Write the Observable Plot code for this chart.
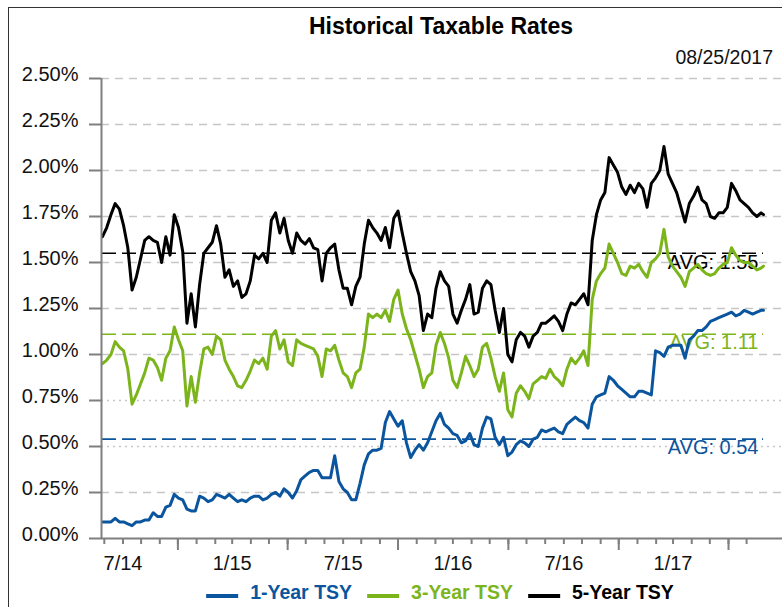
<!DOCTYPE html>
<html>
<head>
<meta charset="utf-8">
<script src="https://cdn.jsdelivr.net/npm/d3@7"></script>
<script src="https://cdn.jsdelivr.net/npm/@observablehq/plot@0.6"></script>
<style>
  body { margin: 0; background: #fff; font-family: "Liberation Sans", Arial, sans-serif; }
  #wrap { position: relative; width: 782px; height: 607px; overflow: hidden; background: #fff; }
  #frame { position: absolute; left: 8px; top: 7px; width: 800px; height: 700px; border-left: 1px solid #333; border-top: 1px solid #333; }
  #chart { position: absolute; left: 0; top: 0; }
  #title { position: absolute; top: 15px; left: 441px; transform: translateX(-50%); font-size: 23px; font-weight: bold; line-height: 23px; white-space: nowrap; color: #000; }
  #date { position: absolute; top: 48px; right: 9px; font-size: 19.5px; line-height: 19.5px; color: #111; white-space: nowrap; }
  #legend { position: absolute; top: 583px; left: 440px; transform: translateX(-50%); display: flex; align-items: flex-start; font-size: 19.5px; font-weight: bold; line-height: 19.5px; white-space: nowrap; }
  .item { display: flex; align-items: flex-start; margin-right: 15px; }
  .item:last-child { margin-right: 0; }
  .sw { display: inline-block; width: 32px; height: 4px; margin-right: 12px; margin-top: 11px; }
</style>
</head>
<body>
<div id="wrap">
  <div id="frame"></div>
  <div id="chart"></div>
  <div id="title"></div>
  <div id="date"></div>
  <div id="legend"></div>
</div>
<script>
// ---------- data ----------
const titleText = "Historical Taxable Rates";
const asOfText = "08/25/2017";
const firstWeek = "2014-08-25";   // weekly observations start (Mondays)
const lastDate = "2017-08-25";    // final observation
const seriesNames = ["1-Year TSY", "3-Year TSY", "5-Year TSY"];
const seriesColors = ["#0a559e", "#7cb41c", "#000000"];
const averages = [0.54, 1.11, 1.55];
const yTicks = [0, 0.25, 0.5, 0.75, 1.0, 1.25, 1.5, 1.75, 2.0, 2.25, 2.5];
const dottedGrid = [0.5, 0.75];
const xTickLabels = ["7/14", "1/15", "7/15", "1/16", "7/16", "1/17"];

const oneYear = [
  0.09, 0.09, 0.09, 0.11, 0.09, 0.09, 0.08, 0.07, 0.09, 0.09,
  0.10, 0.10, 0.14, 0.12, 0.12, 0.17, 0.18, 0.24, 0.22, 0.21,
  0.16, 0.15, 0.15, 0.23, 0.22, 0.20, 0.21, 0.24, 0.23, 0.22,
  0.24, 0.22, 0.20, 0.21, 0.20, 0.22, 0.23, 0.23, 0.21, 0.22,
  0.24, 0.25, 0.23, 0.27, 0.25, 0.22, 0.26, 0.32, 0.34, 0.36,
  0.37, 0.37, 0.33, 0.33, 0.33, 0.45, 0.31, 0.27, 0.25, 0.21,
  0.21, 0.30, 0.40, 0.46, 0.48, 0.48, 0.49, 0.63, 0.69, 0.65,
  0.61, 0.64, 0.52, 0.44, 0.48, 0.51, 0.48, 0.52, 0.58, 0.64,
  0.68, 0.62, 0.60, 0.57, 0.56, 0.52, 0.53, 0.57, 0.51, 0.50,
  0.60, 0.66, 0.65, 0.55, 0.51, 0.55, 0.45, 0.47, 0.51, 0.53,
  0.52, 0.50, 0.54, 0.55, 0.59, 0.58, 0.59, 0.60, 0.58, 0.57,
  0.62, 0.64, 0.66, 0.64, 0.63, 0.60, 0.73, 0.77, 0.78, 0.79,
  0.88, 0.86, 0.83, 0.81, 0.79, 0.77, 0.77, 0.80, 0.80, 0.79,
  0.78, 1.02, 1.01, 0.99, 1.04, 1.05, 1.05, 1.05, 0.98, 1.08,
  1.10, 1.13, 1.13, 1.15, 1.18, 1.19, 1.20, 1.21, 1.22, 1.23,
  1.21, 1.22, 1.24, 1.23, 1.22, 1.23, 1.24,
  1.24
];
const threeYear = [
  0.95, 0.97, 1.00, 1.07, 1.04, 1.02, 0.92, 0.73, 0.78, 0.84,
  0.90, 0.98, 0.97, 0.93, 0.86, 0.98, 1.02, 1.15, 1.08, 1.02,
  0.72, 0.88, 0.74, 0.90, 1.03, 1.04, 1.00, 1.10, 1.08, 0.97,
  0.92, 0.88, 0.83, 0.82, 0.86, 0.91, 0.97, 0.95, 0.98, 0.92,
  1.10, 1.13, 1.03, 1.08, 0.96, 0.94, 1.08, 1.06, 1.05, 1.04,
  1.03, 0.99, 0.88, 1.03, 1.02, 1.05, 0.97, 0.90, 0.88, 0.82,
  0.90, 0.92, 1.04, 1.22, 1.20, 1.22, 1.20, 1.24, 1.18, 1.30,
  1.35, 1.22, 1.14, 1.08, 1.00, 0.92, 0.82, 0.88, 0.90, 1.05,
  1.12, 1.06, 0.98, 0.86, 0.82, 0.90, 0.99, 0.94, 0.88, 0.92,
  1.04, 1.06, 0.98, 0.88, 0.80, 0.90, 0.70, 0.66, 0.79, 0.83,
  0.80, 0.76, 0.84, 0.86, 0.88, 0.87, 0.92, 0.88, 0.86, 0.83,
  0.92, 0.98, 0.95, 0.98, 1.02, 0.94, 1.30, 1.40, 1.44, 1.47,
  1.60, 1.55, 1.50, 1.44, 1.43, 1.48, 1.47, 1.49, 1.45, 1.42,
  1.50, 1.52, 1.55, 1.68, 1.53, 1.48, 1.45, 1.42, 1.37, 1.45,
  1.47, 1.49, 1.46, 1.44, 1.43, 1.44, 1.47, 1.49, 1.50, 1.58,
  1.54, 1.51, 1.50, 1.50, 1.48, 1.46, 1.47,
  1.48
];
const fiveYear = [
  1.64, 1.69, 1.76, 1.82, 1.79, 1.70, 1.58, 1.35, 1.42, 1.52,
  1.62, 1.64, 1.62, 1.61, 1.50, 1.64, 1.54, 1.76, 1.69, 1.56,
  1.17, 1.33, 1.15, 1.38, 1.55, 1.58, 1.61, 1.70, 1.60, 1.42,
  1.46, 1.37, 1.40, 1.31, 1.33, 1.40, 1.54, 1.52, 1.55, 1.50,
  1.73, 1.77, 1.66, 1.74, 1.62, 1.55, 1.66, 1.62, 1.60, 1.63,
  1.58, 1.57, 1.40, 1.55, 1.58, 1.60, 1.46, 1.36, 1.36, 1.27,
  1.37, 1.42, 1.60, 1.73, 1.69, 1.66, 1.62, 1.69, 1.58, 1.74,
  1.78, 1.66, 1.55, 1.45, 1.40, 1.32, 1.13, 1.22, 1.20, 1.36,
  1.45, 1.40, 1.37, 1.22, 1.17, 1.24, 1.30, 1.38, 1.22, 1.23,
  1.36, 1.40, 1.38, 1.24, 1.12, 1.25, 1.00, 0.96, 1.08, 1.12,
  1.10, 1.04, 1.10, 1.12, 1.17, 1.17, 1.19, 1.21, 1.18, 1.13,
  1.22, 1.28, 1.27, 1.30, 1.33, 1.27, 1.62, 1.76, 1.84, 1.88,
  2.07, 2.03, 1.99, 1.91, 1.87, 1.92, 1.88, 1.93, 1.90, 1.80,
  1.93, 1.96, 2.00, 2.13, 1.98, 1.93, 1.88, 1.80, 1.72, 1.82,
  1.86, 1.91, 1.84, 1.82, 1.75, 1.74, 1.77, 1.77, 1.80, 1.93,
  1.89, 1.84, 1.82, 1.80, 1.77, 1.75, 1.77,
  1.76
];

// ---------- build tables ----------
const start = new Date(firstWeek + "T00:00:00Z");
const end = new Date(lastDate + "T00:00:00Z");
const dates = oneYear.map((_, i) => i < oneYear.length - 1 ? d3.utcDay.offset(start, 7 * i) : end);
const seriesValues = [oneYear, threeYear, fiveYear];
const rows = [];
seriesNames.forEach((name, s) => {
  seriesValues[s].forEach((v, i) => rows.push({series: name, date: dates[i], value: v}));
});
const avgRows = seriesNames.map((name, s) => ({series: name, value: averages[s]}));

// axis tick dates (monthly ticks; labels every 6 months)
const tickOrigin = new Date(Date.UTC(2014, 7, 28));
const monthTicks = d3.range(36).map(i => d3.utcMonth.offset(tickOrigin, i));
const labelTicks = xTickLabels.map((_, k) => monthTicks[1 + 6 * k]);
const majorTicks = d3.range(6).map(k => monthTicks[4 + 6 * k]);
const labelMap = new Map(labelTicks.map((d, k) => [+d, xTickLabels[k]]));

const xStart = new Date("2014-08-23T08:00:00Z");
const xEnd = new Date("2017-09-25T12:00:00Z");
const axisGray = "#7f7f7f";
const gridGray = "#c6c6c6";
const font = "Liberation Sans, Arial, sans-serif";

const chart = Plot.plot({
  width: 782,
  height: 607,
  marginTop: 78,
  marginBottom: 69,
  marginLeft: 101,
  marginRight: 0,
  style: {background: "transparent", fontFamily: font, fontSize: "20px", color: "#111", overflow: "visible"},
  x: {type: "utc", domain: [xStart, xEnd], axis: null, label: null},
  y: {domain: [0, 2.5], axis: null, label: null},
  color: {domain: seriesNames, range: seriesColors},
  marks: [
    Plot.ruleY(yTicks.filter(d => d > 0 && !dottedGrid.includes(d)), {stroke: gridGray, strokeWidth: 1.5, strokeDasharray: "8,6"}),
    Plot.ruleY(dottedGrid, {stroke: gridGray, strokeWidth: 1.5, strokeDasharray: "2,4"}),
    Plot.ruleY(avgRows, {y: "value", x1: () => start, x2: () => end, stroke: "series", strokeWidth: 1.6, strokeDasharray: "14,6"}),
    Plot.text(avgRows, {x: () => end, y: "value", text: d => `AVG: ${d.value.toFixed(2)}`, fill: "series", textAnchor: "end", lineAnchor: "top", dx: -5, dy: 1, fontSize: 20}),
    Plot.lineY(rows, {x: "date", y: "value", z: "series", stroke: "series", strokeWidth: 3, strokeLinejoin: "round"}),
    Plot.ruleX([xStart], {stroke: axisGray, strokeWidth: 2}),
    Plot.ruleY([0], {stroke: axisGray, strokeWidth: 2}),
    Plot.axisY({ticks: yTicks, tickSize: 12, tickFormat: () => "", color: axisGray, strokeWidth: 2, label: null}),
    Plot.axisY({ticks: yTicks, tickSize: 0, tickPadding: 23, tickFormat: d => d.toFixed(2) + "%", color: "#111", fontSize: 20, dy: -4, label: null}),
    Plot.axisX({ticks: monthTicks, tickSize: 6, tickFormat: () => "", color: axisGray, strokeWidth: 2, label: null}),
    Plot.axisX({ticks: majorTicks, tickSize: 12, tickFormat: () => "", color: axisGray, strokeWidth: 2, label: null}),
    Plot.axisX({ticks: labelTicks, tickSize: 0, tickPadding: 17.5, tickFormat: d => labelMap.get(+d), color: "#111", fontSize: 20, label: null})
  ]
});
document.getElementById("chart").appendChild(chart);

document.getElementById("title").textContent = titleText;
document.getElementById("date").textContent = asOfText;
const legend = document.getElementById("legend");
seriesNames.forEach((name, s) => {
  const item = document.createElement("div");
  item.className = "item";
  const sw = document.createElement("span");
  sw.className = "sw";
  sw.style.background = seriesColors[s];
  const label = document.createElement("span");
  label.textContent = name;
  label.style.color = seriesColors[s];
  item.appendChild(sw);
  item.appendChild(label);
  legend.appendChild(item);
});
</script>
</body>
</html>
